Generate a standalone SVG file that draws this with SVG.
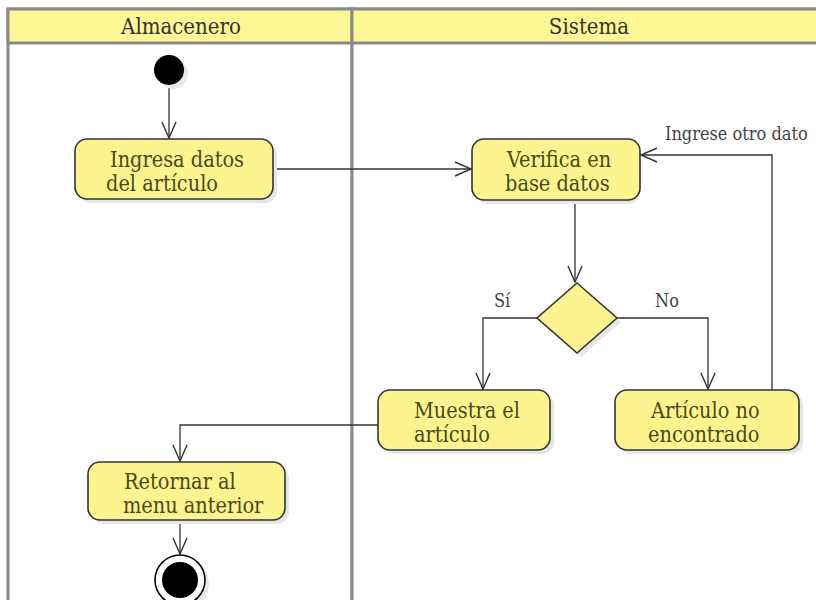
<svg xmlns="http://www.w3.org/2000/svg" width="816" height="600" viewBox="0 0 816 600">
<defs>
<style>
.lane{fill:#ffffff;stroke:#8a8a8a;stroke-width:3}
.head{fill:#fdf794;stroke:#8a8a8a;stroke-width:3}
.ht{font-family:"DejaVu Serif Condensed","DejaVu Serif",serif;font-stretch:condensed;font-size:22px;fill:#333333;text-anchor:middle}
.act{fill:#fdf48f;stroke:#333333;stroke-width:1.6}
.sh{fill:#e6e6e6}
.t{font-family:"DejaVu Serif Condensed","DejaVu Serif",serif;font-stretch:condensed;font-size:21.5px;fill:#4a4a18}
.lbl{font-family:"DejaVu Serif Condensed","DejaVu Serif",serif;font-stretch:condensed;font-size:18px;fill:#444444}
.c{fill:none;stroke:#333333;stroke-width:1.3}
</style>
<marker id="arr" viewBox="0 0 20 20" refX="18" refY="10" markerWidth="20" markerHeight="20" markerUnits="userSpaceOnUse" orient="auto">
<path d="M2,3 L18,10 L2,17" fill="none" stroke="#333333" stroke-width="1.4"/>
</marker>
</defs>
<rect width="816" height="600" fill="#ffffff"/>
<g id="lanes">
<rect class="lane" x="8" y="9" width="344" height="600"/>
<rect class="lane" x="352" y="9" width="470" height="600"/>
<rect class="head" x="8" y="9" width="344" height="34"/>
<rect class="head" x="352" y="9" width="470" height="34"/>
<text class="ht" x="181" y="34">Almacenero</text>
<text class="ht" x="589" y="34">Sistema</text>
</g>
<g id="connectors">
<path class="c" d="M169,86 L169,138" marker-end="url(#arr)"/>
<path class="c" d="M273,169 L471,169" marker-end="url(#arr)"/>
<path class="c" d="M575,200 L575,282" marker-end="url(#arr)"/>
<path class="c" d="M537,318 L483,318 L483,389" marker-end="url(#arr)"/>
<path class="c" d="M617,318 L708,318 L708,389" marker-end="url(#arr)"/>
<path class="c" d="M772,390 L772,155 L641,155" marker-end="url(#arr)"/>
<path class="c" d="M378,425 L180,425 L180,461" marker-end="url(#arr)"/>
<path class="c" d="M180,520 L180,554" marker-end="url(#arr)"/>
<text class="lbl" x="665" y="140">Ingrese otro dato</text>
<text class="lbl" x="494" y="307">Sí</text>
<text class="lbl" x="655" y="307">No</text>
</g>
<g id="start">
<circle cx="173" cy="74" r="15" fill="#e8e8e8"/>
<circle cx="169" cy="70" r="15" fill="#000000"/>
</g>
<g id="ingresa">
<rect class="sh" x="79" y="143" width="198" height="60" rx="12"/>
<rect class="act" x="75" y="139" width="198" height="60" rx="12"/>
<text class="t" x="110" y="167">Ingresa datos</text>
<text class="t" x="106" y="191">del artículo</text>
</g>
<g id="verifica">
<rect class="sh" x="476" y="143" width="164" height="61" rx="12"/>
<rect class="act" x="472" y="139" width="168" height="61" rx="12"/>
<text class="t" x="507" y="167">Verifica en</text>
<text class="t" x="505" y="191">base datos</text>
</g>
<g id="decision">
<path class="sh" d="M581,287 L621,322 L581,357 L541,322 Z"/>
<path class="act" d="M577,283 L617,318 L577,353 L537,318 Z"/>
</g>
<g id="muestra">
<rect class="sh" x="382" y="394" width="172" height="60" rx="12"/>
<rect class="act" x="378" y="390" width="172" height="60" rx="12"/>
<text class="t" x="414" y="418">Muestra el</text>
<text class="t" x="414" y="442">artículo</text>
</g>
<g id="noencontrado">
<rect class="sh" x="619" y="394" width="184" height="60" rx="12"/>
<rect class="act" x="615" y="390" width="184" height="60" rx="12"/>
<text class="t" x="651" y="418">Artículo no</text>
<text class="t" x="648" y="442">encontrado</text>
</g>
<g id="retornar">
<rect class="sh" x="92" y="466" width="197" height="58" rx="12"/>
<rect class="act" x="88" y="462" width="197" height="58" rx="12"/>
<text class="t" x="124" y="489">Retornar al</text>
<text class="t" x="123" y="513">menu anterior</text>
</g>
<g id="end">
<circle cx="184" cy="584" r="25" fill="#e8e8e8"/>
<circle cx="180" cy="580" r="25" fill="#ffffff" stroke="#000000" stroke-width="1.6"/>
<circle cx="180" cy="580" r="18" fill="#000000"/>
</g>
</svg>
